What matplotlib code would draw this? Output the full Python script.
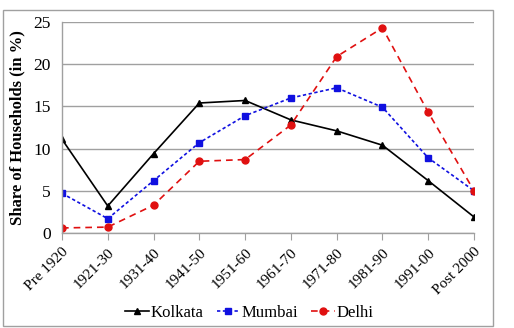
import matplotlib
matplotlib.use("Agg")
import matplotlib.pyplot as plt
from matplotlib.patches import Rectangle

# ===============================
# DADOS
# ===============================

periodos = ["Pre 1920", "1921-30", "1931-40", "1941-50", "1951-60",
            "1961-70", "1971-80", "1981-90", "1991-00", "Post 2000"]
kolkata = [11.1, 3.2, 9.4, 15.4, 15.7, 13.4, 12.1, 10.4, 6.2, 1.9]
mumbai = [4.7, 1.7, 6.2, 10.7, 13.9, 16.0, 17.2, 14.9, 8.9, 5.0]
delhi = [0.6, 0.7, 3.3, 8.5, 8.7, 12.8, 20.9, 24.3, 14.3, 5.0]

plt.rcParams["font.family"] = ["Liberation Serif", "DejaVu Serif"]

fig = plt.figure(figsize=(5.14, 3.28), dpi=100)
ax = fig.add_axes([0.1206, 0.2896, 0.8016, 0.6434])

x = list(range(len(periodos)))
ax.plot(x, kolkata, color="black", marker="^", markersize=5, lw=1.2,
        linestyle="-", label="Kolkata")
ax.plot(x, mumbai, color="#1010e0", marker="s", markersize=5, lw=1.2,
        linestyle=(0, (2, 1.5)), label="Mumbai")
ax.plot(x, delhi, color="#e01010", marker="o", markersize=5, lw=1.2,
        linestyle=(0, (4, 3)), label="Delhi")

ax.set_xlim(0, len(periodos) - 1)
ax.set_ylim(0, 25)
ax.set_yticks([0, 5, 10, 15, 20, 25])
ax.set_xticks(x)
ax.set_xticklabels(periodos, rotation=45, ha="right", rotation_mode="anchor",
                   fontsize=11)
ax.tick_params(axis="y", length=0, labelsize=12.5, pad=8)
ax.tick_params(axis="x", length=5, color="#a0a0a0", pad=4)
ax.yaxis.grid(True, color="#a0a0a0", lw=1)
ax.set_axisbelow(True)
for s in ["top", "right"]:
    ax.spines[s].set_visible(False)
for s in ["left", "bottom"]:
    ax.spines[s].set_color("#a0a0a0")
    ax.spines[s].set_linewidth(1)

ax.set_ylabel("Share of Households (in %)", fontsize=12, fontweight="bold",
              labelpad=6)

fig.legend(loc="center", bbox_to_anchor=(0.485, 0.045), ncol=3, frameon=False,
           prop={"family": "Liberation Serif", "size": 12},
           handlelength=1.4, handletextpad=0.1, columnspacing=0.8)

# moldura externa
fig.patches.append(Rectangle((0.006, 0.006), 0.953, 0.965, transform=fig.transFigure,
                             fill=False, edgecolor="#a0a0a0", lw=1))

fig.savefig("out.png", dpi=100)
